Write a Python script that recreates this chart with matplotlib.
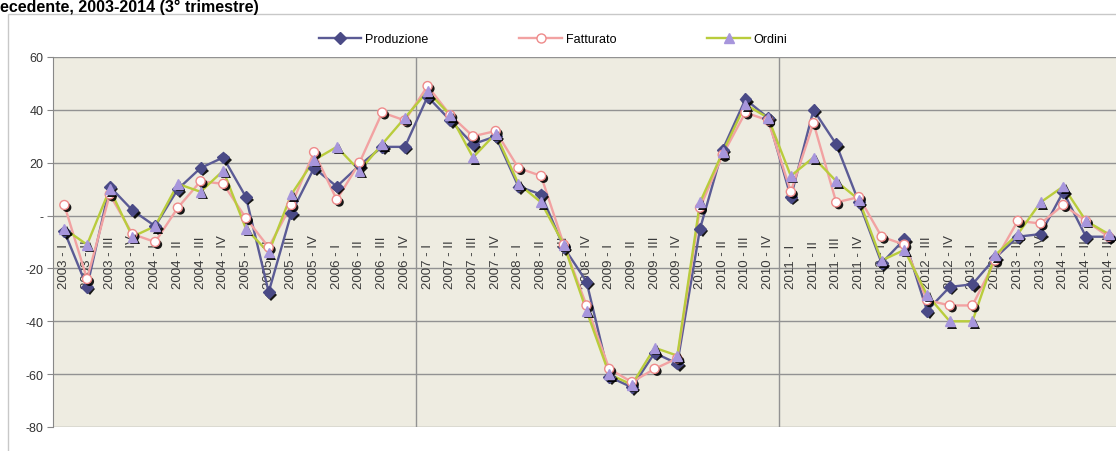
import numpy as np
import matplotlib
matplotlib.use('Agg')
import matplotlib.pyplot as plt
import matplotlib.patheffects as pe
from matplotlib.patches import Rectangle

plt.rcParams['font.family'] = ['Liberation Sans', 'DejaVu Sans']

# quarters 2003 - I ... 2014 - III
years = list(range(2003, 2015))
quarters = ['I', 'II', 'III', 'IV']
labels = ['%d - %s' % (y, q) for y in years for q in quarters][:47]

produzione = [-6, -27, 11, 2, -4, 10, 18, 22, 7, -29, 1, 18, 11, 19, 26, 26,
              45, 36, 27, 30, 11, 8, -12, -25, -61, -65, -52, -56, -5, 25, 44, 37,
              7, 40, 27, 5, -18, -9, -36, -27, -26, -16, -8, -7, 9, -8, -8]
fatturato = [4, -24, 8, -7, -10, 3, 13, 12, -1, -12, 4, 24, 6, 20, 39, 36,
             49, 38, 30, 32, 18, 15, -11, -34, -58, -63, -58, -54, 3, 23, 39, 36,
             9, 35, 5, 7, -8, -11, -32, -34, -34, -17, -2, -3, 4, -2, -8]
ordini = [-5, -11, 10, -8, -4, 12, 9, 17, -5, -14, 8, 21, 26, 17, 27, 37,
          47, 38, 22, 31, 12, 5, -11, -36, -60, -64, -50, -53, 5, 24, 42, 37,
          15, 22, 13, 6, -17, -13, -30, -40, -40, -15, -7, 5, 11, -2, -7]

yticks = [60, 40, 20, 0, -20, -40, -60, -80]
ytick_labels = ['60', '40', '20', '-', '-20', '-40', '-60', '-80']

x = np.arange(len(labels))

fig = plt.figure(figsize=(11.16, 4.52), dpi=100)
fig.patch.set_facecolor('white')

# chart area border
fig.patches.append(Rectangle((8 / 1116, -0.1), 1.2, 1 - 15 / 452 + 0.1,
                             transform=fig.transFigure, fill=False,
                             edgecolor='#c8c8c8', linewidth=1.0))

ax = fig.add_axes([53 / 1116, 24 / 452, 1067 / 1116, 370 / 452])
ax.set_facecolor('#EEECE1')

for yv in yticks:
    ax.axhline(yv, color='#929292', linewidth=1.0, zorder=1)
for xv in [15.5, 31.5]:
    ax.axvline(xv, color='#929292', linewidth=1.0, zorder=1)

for i, lab in enumerate(labels):
    ax.text(i, -27.3, lab, rotation=90, rotation_mode='anchor',
            ha='left', va='center', fontsize=9.5, color='#3a3a3a', zorder=2)

shadow = [pe.SimplePatchShadow(offset=(1.8, -1.8), shadow_rgbFace='black', alpha=0.9), pe.Normal()]

series = [
    ('Produzione', produzione, '#5b5b95', 'D', '#4a4a86', '#4a4a86', 6),
    ('Fatturato', fatturato, '#f2a2a2', 'o', 'white', '#ee8a8a', 6.5),
    ('Ordini', ordini, '#b9cc3c', '^', '#a796dc', '#a796dc', 7),
]
for name, vals, lc, mk, mfc, mec, ms in series:
    ax.plot(x, vals, color=lc, linewidth=1.7, zorder=3)
    ax.plot(x, vals, linestyle='none', marker=mk, markersize=ms,
            markerfacecolor=mfc, markeredgecolor=mec, markeredgewidth=1.0,
            zorder=4, path_effects=shadow)
    ax.plot([], [], color=lc, linewidth=1.7, marker=mk, markersize=ms,
            markerfacecolor=mfc, markeredgecolor=mec, label=name)

ax.set_xlim(-0.5, len(labels) - 0.5)
ax.set_ylim(-80, 60)
ax.set_xticks([])
ax.set_yticks(yticks)
ax.set_yticklabels(ytick_labels)
ax.tick_params(axis='y', length=4, color='#888888', labelsize=9,
               labelcolor='#333333', pad=3)
for s in ['top', 'right', 'bottom']:
    ax.spines[s].set_visible(False)
ax.spines['left'].set_color('#888888')

fig.legend(loc='center', bbox_to_anchor=(553 / 1116, 1 - 40 / 452), ncol=3,
           frameon=False, fontsize=9, handlelength=3.4, columnspacing=7.3,
           handletextpad=0.3)

fig.text(0.0, 1 - 12 / 452, 'ecedente, 2003-2014 (3\u00b0 trimestre)',
         fontsize=11.5, fontweight='bold', ha='left', va='baseline')

fig.savefig('out.png', dpi=100)
